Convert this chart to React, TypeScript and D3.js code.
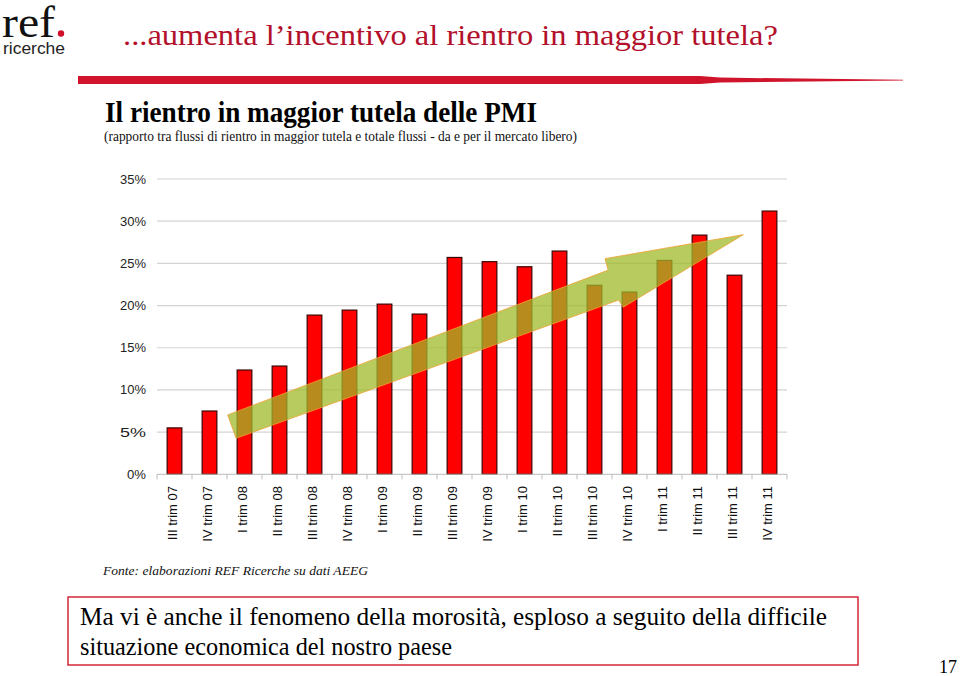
import React from "react";
import * as d3 from "d3";

const categories = [
  "III trim 07", "IV trim 07", "I trim 08", "II trim 08", "III trim 08", "IV trim 08",
  "I trim 09", "II trim 09", "III trim 09", "IV trim 09", "I trim 10", "II trim 10",
  "III trim 10", "IV trim 10", "I trim 11", "II trim 11", "III trim 11", "IV trim 11",
];
const values = [
  0.055, 0.075, 0.1236, 0.1283, 0.1887, 0.1946, 0.2017, 0.1899,
  0.257, 0.252, 0.246, 0.2646, 0.224, 0.216, 0.2535, 0.2835, 0.236, 0.312,
];
const yTicks = [0, 0.05, 0.1, 0.15, 0.2, 0.25, 0.3, 0.35];
// trend arrow outline, in (category position, share) units
const arrowPoints: [number, number][] = [
  [2.02, 0.0704], [12.89, 0.242], [12.8, 0.2556], [16.75, 0.284],
  [13.32, 0.198], [13.19, 0.2065], [2.26, 0.0427],
];

const W = 960, H = 676;
const X0 = 157, X1 = 787, Y0 = 474.3, Y1 = 179;
const SERIF = "'Liberation Serif', 'Times New Roman', Times, serif";
const SANS = "'Liberation Sans', Arial, Helvetica, sans-serif";

export default function App() {
  const x = d3.scaleBand<string>().domain(categories).range([X0, X1]).paddingInner(0.58).paddingOuter(0.29);
  const xc = d3.scaleLinear().domain([0, categories.length]).range([X0, X1]);
  const y = d3.scaleLinear().domain([0, 0.35]).range([Y0, Y1]);
  const fmt = d3.format(".0%");
  const arrowPath = d3.line<[number, number]>().x(d => xc(d[0])).y(d => y(d[1])).curve(d3.curveLinearClosed)(arrowPoints) || "";
  const step = x.step();
  return (
    <svg width={W} height={H} style={{ position: "absolute", left: 0, top: 0, background: "#fff" }}>
      {/* logo */}
      <text x={2} y={37} fontFamily={SERIF} fontSize={45} fill="#111" textLength={53} lengthAdjust="spacingAndGlyphs">ref</text>
      <circle cx={61} cy={33.5} r={3.2} fill="#d0102a" />
      <text x={3} y={54} fontFamily={SANS} fontSize={16} fill="#222" textLength={62} lengthAdjust="spacingAndGlyphs">ricerche</text>
      {/* headline */}
      <text x={123} y={45} fontFamily={SERIF} fontSize={30} fill="#b3102b" textLength={655} lengthAdjust="spacingAndGlyphs">...aumenta l’incentivo al rientro in maggior tutela?</text>
      <polygon points="78,76 700,76 720,77.6 903,79.8 903,80.4 720,82.4 700,84 78,84" fill="#d0142c" />
      {/* chart title */}
      <text x={105} y={122} fontFamily={SERIF} fontWeight="bold" fontSize={28.5} fill="#000" textLength={432} lengthAdjust="spacingAndGlyphs">Il rientro in maggior tutela delle PMI</text>
      <text x={104} y={141} fontFamily={SERIF} fontSize={14} fill="#111" textLength={473} lengthAdjust="spacingAndGlyphs">(rapporto tra flussi di rientro in maggior tutela e totale flussi - da e per il mercato libero)</text>
      {/* grid */}
      {yTicks.map(t => (
        <g key={t}>
          {t > 0 && <line x1={X0} x2={X1} y1={y(t)} y2={y(t)} stroke="#d4d4d4" strokeWidth={1.2} />}
          <text x={146} y={y(t)} dy="0.35em" textAnchor="end" fontFamily={SANS} fontSize={13} fill="#222" textLength={t === 0 ? 19 : 26} lengthAdjust="spacingAndGlyphs">{fmt(t)}</text>
        </g>
      ))}
      {/* bars */}
      {categories.map((c, i) => (
        <rect key={c} x={x(c)} y={y(values[i])} width={x.bandwidth()} height={Y0 - y(values[i])} fill="#ff0000" stroke="#3a0505" strokeWidth={1.2} />
      ))}
      {/* axis */}
      <line x1={X0} x2={X1} y1={Y0} y2={Y0} stroke="#bbb" strokeWidth={1} />
      {d3.range(categories.length + 1).map(k => (
        <line key={k} x1={X0 + k * step} x2={X0 + k * step} y1={Y0} y2={Y0 + 5} stroke="#bbb" strokeWidth={1} />
      ))}
      {categories.map(c => {
        const cx = (x(c) || 0) + x.bandwidth() / 2 - 2;
        return (
          <text key={c} transform={`translate(${cx},486) rotate(-90)`} textAnchor="end" dy="0.35em" fontFamily={SANS} fontSize={13} fill="#111">{c}</text>
        );
      })}
      {/* trend arrow */}
      <path d={arrowPath} fill="rgb(160,185,40)" fillOpacity={0.75} stroke="#f0a030" strokeWidth={1} strokeOpacity={0.8} />
      {/* source */}
      <text x={103} y={575} fontFamily={SERIF} fontStyle="italic" fontSize={13.5} fill="#111" textLength={265} lengthAdjust="spacingAndGlyphs">Fonte: elaborazioni REF Ricerche su dati AEEG</text>
      {/* note box */}
      <rect x={68} y={597} width={790} height={68} fill="#fff" stroke="#d3283a" strokeWidth={1.5} />
      <text x={80} y={625} fontFamily={SERIF} fontSize={25} fill="#000" textLength={747} lengthAdjust="spacingAndGlyphs">Ma vi è anche il fenomeno della morosità, esploso a seguito della difficile</text>
      <text x={80} y={655} fontFamily={SERIF} fontSize={25} fill="#000" textLength={372} lengthAdjust="spacingAndGlyphs">situazione economica del nostro paese</text>
      <text x={939} y={673} fontFamily={SERIF} fontSize={18} fill="#000" textLength={18} lengthAdjust="spacingAndGlyphs">17</text>
    </svg>
  );
}
